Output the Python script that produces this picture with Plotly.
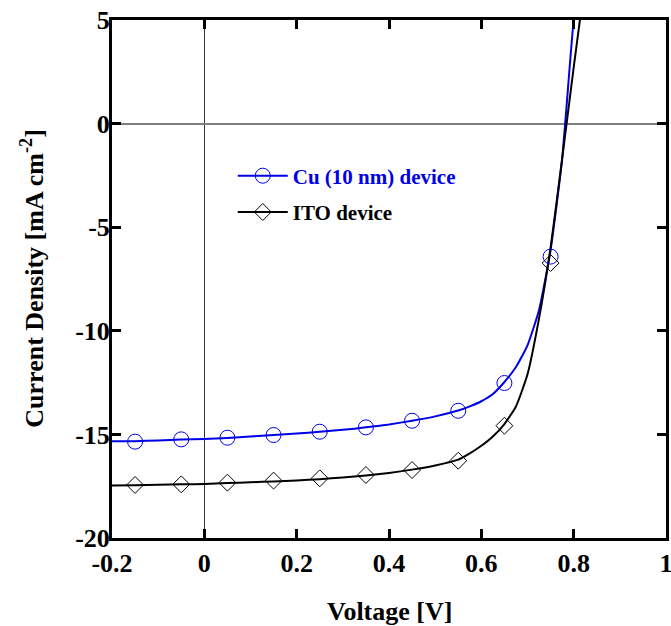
import plotly.graph_objects as go

# Marker data (measured points)
v_markers = [-0.15, -0.05, 0.05, 0.15, 0.25, 0.35, 0.45, 0.55, 0.65, 0.75]
cu_markers = [-15.35, -15.24, -15.16, -15.03, -14.87, -14.66, -14.34, -13.86, -12.52, -6.42]
ito_markers = [-17.44, -17.41, -17.33, -17.23, -17.12, -16.96, -16.72, -16.27, -14.58, -6.73]

# Continuous curves
v_curve = [-0.2, -0.15, -0.1, -0.05, 0.0, 0.05, 0.1, 0.15, 0.2, 0.25, 0.3, 0.35, 0.4,
           0.45, 0.5, 0.55, 0.575, 0.6, 0.625, 0.65, 0.675, 0.7, 0.725, 0.75, 0.775, 0.8, 0.82]
cu_curve = [-15.33, -15.33, -15.29, -15.25, -15.22, -15.17, -15.10, -15.03, -14.96, -14.87,
            -14.78, -14.66, -14.52, -14.34, -14.13, -13.85, -13.65, -13.40, -13.05, -12.47,
            -11.75, -10.70, -9.00, -6.10, -1.70, 5.0, 8.4]
ito_curve = [-17.47, -17.45, -17.43, -17.41, -17.39, -17.35, -17.31, -17.27, -17.22, -17.16,
             -17.08, -16.98, -16.86, -16.70, -16.50, -16.22, -15.92, -15.55, -15.10, -14.50,
             -13.65, -12.10, -9.40, -6.00, -1.70, 2.70, 6.10]

x_ticks = [-0.2, 0, 0.2, 0.4, 0.6, 0.8, 1]
x_ticktext = ["-0.2", "0", "0.2", "0.4", "0.6", "0.8", "1"]
y_ticks = [-20, -15, -10, -5, 0, 5]
y_ticktext = ["-20", "-15", "-10", "-5", "0", "5"]

BLUE = "#0000e6"
FONT = "Liberation Serif"

fig = go.Figure()

fig.add_trace(go.Scatter(x=v_curve, y=cu_curve, mode="lines",
                         line=dict(color=BLUE, width=2, shape="spline", smoothing=0.5),
                         showlegend=False, hoverinfo="skip"))
fig.add_trace(go.Scatter(x=v_curve, y=ito_curve, mode="lines",
                         line=dict(color="black", width=2, shape="spline", smoothing=0.5),
                         showlegend=False, hoverinfo="skip"))
fig.add_trace(go.Scatter(x=v_markers, y=cu_markers, mode="markers",
                         marker=dict(symbol="circle-open", size=15, color=BLUE, line=dict(width=1, color=BLUE)),
                         showlegend=False))
fig.add_trace(go.Scatter(x=v_markers, y=ito_markers, mode="markers",
                         marker=dict(symbol="diamond-open", size=13, color="black", line=dict(width=1, color="black")),
                         showlegend=False))

# legend entries
fig.add_trace(go.Scatter(x=[None], y=[None], mode="lines+markers",
                         name='<span style="color:%s">Cu (10 nm) device</span>' % BLUE,
                         legendgroup="cu",
                         line=dict(color=BLUE, width=2),
                         marker=dict(symbol="circle-open", size=15, color=BLUE, line=dict(width=1, color=BLUE))))
fig.add_trace(go.Scatter(x=[None], y=[None], mode="lines+markers",
                         name="ITO device", legendgroup="ito",
                         line=dict(color="black", width=2),
                         marker=dict(symbol="diamond-open", size=13, color="black", line=dict(width=1, color="black"))))

axis_common = dict(
    showline=True, linecolor="black", linewidth=3, mirror="allticks",
    ticks="inside", ticklen=9, tickwidth=3, tickcolor="black",
    showgrid=False, automargin=False, ticklabeloverflow="allow",
    tickfont=dict(family=FONT, size=26, color="black", weight="bold"),
)

fig.update_layout(
    width=671, height=626,
    margin=dict(l=112, r=5, t=20, b=88),
    plot_bgcolor="white", paper_bgcolor="white",
    font=dict(family=FONT, color="black"),
    xaxis=dict(range=[-0.2, 1], tickvals=x_ticks, ticktext=x_ticktext,
               zeroline=True, zerolinecolor="#333333", zerolinewidth=1,
               ticklabelstandoff=0,
               **axis_common),
    yaxis=dict(range=[-20, 5], tickvals=y_ticks, ticktext=y_ticktext,
               zeroline=True, zerolinecolor="#808080", zerolinewidth=1.5,
               ticklabelstandoff=-6,
               **axis_common),
    legend=dict(x=0.218, y=0.664, xanchor="left", yanchor="middle",
                bgcolor="rgba(0,0,0,0)", borderwidth=0,
                font=dict(family=FONT, size=21, color="black", weight="bold"),
                itemwidth=50, tracegroupgap=6),
    showlegend=True,
    annotations=[
        dict(text="Voltage [V]", xref="paper", yref="paper", x=0.5, y=-0.142,
             xanchor="center", yanchor="middle", showarrow=False,
             font=dict(family=FONT, size=26, color="black", weight="bold")),
        dict(text="Current Density [mA cm<sup>-2</sup>]", xref="paper", yref="paper",
             x=-0.145, y=0.5, xanchor="center", yanchor="middle", showarrow=False,
             textangle=-90,
             font=dict(family=FONT, size=26, color="black", weight="bold")),
    ],
)

fig.write_html(
    "out.html",
    config={"displayModeBar": False},
    post_script="document.body.style.margin='0';document.body.style.overflow='hidden';",
)
